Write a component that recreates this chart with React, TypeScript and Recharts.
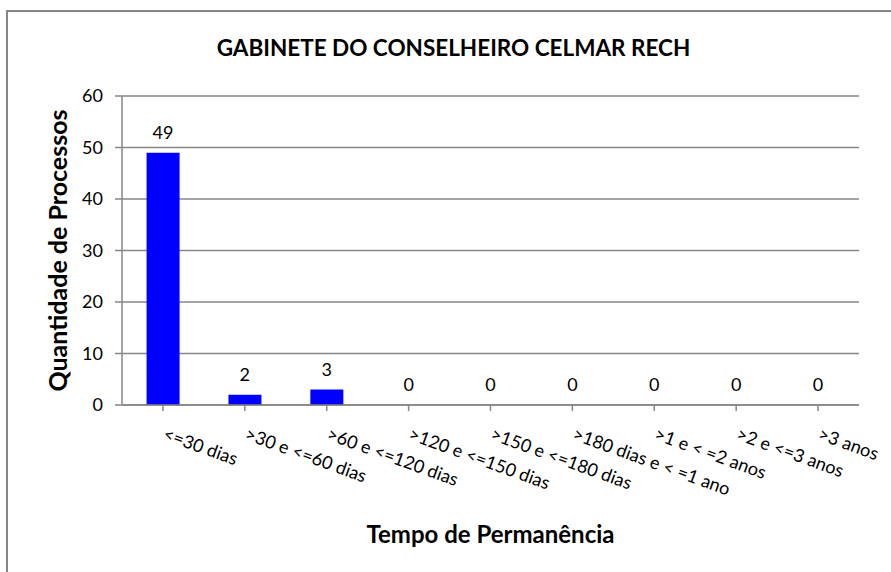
import React from 'react';
import { ComposedChart, Bar, Line, XAxis, YAxis, CartesianGrid, LabelList, Label } from 'recharts';

const categories = [
  '<=30 dias',
  '>30 e <=60 dias',
  '>60 e <=120 dias',
  '>120 e <=150 dias',
  '>150 e <=180 dias',
  '>180 dias e < =1 ano',
  '>1 e < =2 anos',
  '>2 e <=3 anos',
  '>3 anos',
];
const processos = [49, 2, 3, 0, 0, 0, 0, 0, 0];
const yTicks = [0, 10, 20, 30, 40, 50, 60];

const data = categories.map((cat, i) => ({ cat, value: processos[i] }));

const FONT = 'Lato, "Open Sans", sans-serif';
const GRID = '#868686';

// angled category labels, text starts at the category centre
const XTick = (props: any) => {
  const { x, y, payload } = props;
  const tx = x - 1;
  const ty = y + 26;
  return (
    <text
      x={tx}
      y={ty}
      transform={`rotate(20 ${tx} ${ty})`}
      textAnchor="start"
      fontSize={18}
      fontFamily={FONT}
      fill="#000"
    >
      {payload.value}
    </text>
  );
};

// rotated y title, nudged a bit left of the axis-area centre
const YTitle = (props: any) => {
  const { viewBox } = props;
  const cx = viewBox.x + viewBox.width / 2 - 4;
  const cy = viewBox.y + viewBox.height / 2;
  return (
    <text
      x={cx}
      y={cy}
      transform={`rotate(-90 ${cx} ${cy})`}
      textAnchor="middle"
      dominantBaseline="central"
      fontSize={25}
      fontWeight={700}
      fontFamily={FONT}
      fill="#000"
    >
      Quantidade de Processos
    </text>
  );
};

export default function App() {
  return (
    <div style={{ position: 'fixed', left: 0, top: 0, width: 891, height: 572, background: '#fff', fontFamily: FONT }}>
      {/* outer chart frame, runs off the right and bottom */}
      <div
        style={{
          position: 'absolute',
          left: 6,
          top: 10,
          width: 900,
          height: 600,
          borderLeft: '2px solid ' + GRID,
          borderTop: '2px solid ' + GRID,
        }}
      />
      <div
        style={{
          position: 'absolute',
          left: 0,
          top: 34,
          width: 907,
          textAlign: 'center',
          fontSize: 22.5,
          fontWeight: 700,
          color: '#000',
        }}
      >
        GABINETE DO CONSELHEIRO CELMAR RECH
      </div>
      <div style={{ position: 'absolute', left: 0, top: 0 }}>
        <ComposedChart
          width={891}
          height={572}
          data={data}
          margin={{ top: 96, right: 32, left: 0, bottom: 0 }}
          barCategoryGap="30%"
        >
          <CartesianGrid vertical={false} stroke={GRID} strokeWidth={1.5} />
          <XAxis
            dataKey="cat"
            interval={0}
            height={167}
            stroke={GRID}
            strokeWidth={1.5}
            tickSize={6}
            tickMargin={2}
            tick={<XTick />}
          >
            <Label
              value="Tempo de Permanência"
              position="insideBottom"
              offset={29}
              fontSize={24}
              fontWeight={700}
              fontFamily={FONT}
              fill="#000"
            />
          </XAxis>
          <YAxis
            width={122}
            domain={[0, 60]}
            ticks={yTicks}
            interval={0}
            stroke={GRID}
            strokeWidth={1.5}
            tickSize={7}
            tickMargin={12}
            tick={{ fontSize: 18, fill: '#000', fontFamily: FONT }}
          >
            <Label content={<YTitle />} />
          </YAxis>
          <Bar dataKey="value" fill="#0000ff" isAnimationActive={false} />
          {/* invisible series that carries the value labels, so zeros get one too */}
          <Line dataKey="value" stroke="none" dot={false} activeDot={false} isAnimationActive={false}>
            <LabelList dataKey="value" position="top" offset={14} fontSize={18} fill="#000" fontFamily={FONT} />
          </Line>
        </ComposedChart>
      </div>
    </div>
  );
}
